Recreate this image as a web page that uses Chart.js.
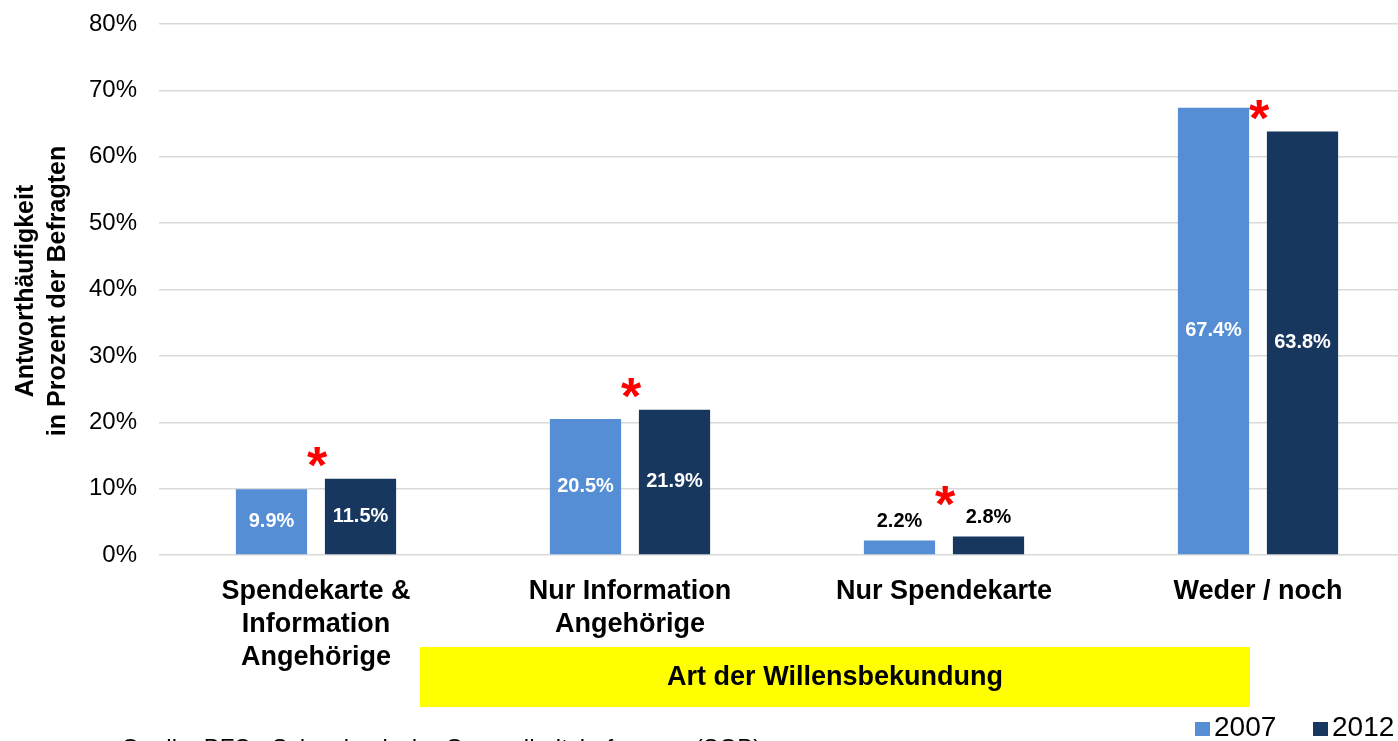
<!DOCTYPE html>
<html>
<head>
<meta charset="utf-8">
<script src="https://cdn.jsdelivr.net/npm/chart.js@4.4.0/dist/chart.umd.min.js"></script>
<style>
  html, body { margin: 0; padding: 0; background: #fff; overflow: hidden; }
  canvas { display: block; }
</style>
</head>
<body>
<canvas id="chart" width="1415" height="741"></canvas>
<script>
// Daten
const kategorien = [
    ['Spendekarte &', 'Information', 'Angehörige'],
    ['Nur Information', 'Angehörige'],
    'Nur Spendekarte',
    'Weder / noch'
];
const jahre = ['2007', '2012'];
const werte2007 = [9.9, 20.5, 2.2, 67.4];
const werte2012 = [11.5, 21.9, 2.8, 63.8];
const signifikant = [true, true, true, true];
const yTicks = [0, 10, 20, 30, 40, 50, 60, 70, 80];

const farben = ['#558ED5', '#17375E'];
const schrift = '"Liberation Sans", Arial, sans-serif';

// Werte in oder über den Balken
const wertLabels = {
    id: 'wertLabels',
    afterDatasetsDraw(chart) {
        const ctx = chart.ctx;
        ctx.save();
        ctx.font = 'bold 20px ' + schrift;
        ctx.textAlign = 'center';
        ctx.textBaseline = 'middle';
        chart.data.datasets.forEach((ds, i) => {
            chart.getDatasetMeta(i).data.forEach((bar, j) => {
                const v = ds.data[j];
                const txt = v.toFixed(1) + '%';
                if (v < 5) {
                    ctx.fillStyle = '#000';
                    ctx.fillText(txt, bar.x, bar.y - 19);
                } else {
                    ctx.fillStyle = '#fff';
                    ctx.fillText(txt, bar.x, (bar.y + bar.base) / 2);
                }
            });
        });
        ctx.restore();
    }
};

// Sternchen für signifikante Unterschiede
const sterne = {
    id: 'sterne',
    afterDatasetsDraw(chart) {
        const ctx = chart.ctx;
        const a = chart.getDatasetMeta(0).data;
        const b = chart.getDatasetMeta(1).data;
        ctx.save();
        ctx.font = 'bold 52px ' + schrift;
        ctx.fillStyle = '#FF0000';
        ctx.textAlign = 'center';
        ctx.textBaseline = 'middle';
        signifikant.forEach((s, j) => {
            if (!s) return;
            const x = (a[j].x + a[j].width / 2 + b[j].x - b[j].width / 2) / 2;
            let top = b[j].y;
            if (werte2012[j] < 5) top -= 19;
            ctx.fillText('*', x + 1, top - 10);
        });
        ctx.restore();
    }
};

// Achsentitel, gelbes Feld, Quelle, Legende
const rahmen = {
    id: 'rahmen',
    afterDraw(chart) {
        const ctx = chart.ctx;
        ctx.save();
        // Y-Titel
        ctx.translate(0, 291);
        ctx.rotate(-Math.PI / 2);
        ctx.font = 'bold 25px ' + schrift;
        ctx.fillStyle = '#000';
        ctx.textAlign = 'center';
        ctx.textBaseline = 'middle';
        ctx.fillText('Antworthäufigkeit', 0, 26);
        ctx.fillText('in Prozent der Befragten', 0, 58);
        ctx.restore();

        ctx.save();
        ctx.fillStyle = '#FFFF00';
        ctx.fillRect(420, 647, 830, 60);
        ctx.fillStyle = '#000';
        ctx.font = 'bold 27px ' + schrift;
        ctx.textAlign = 'center';
        ctx.textBaseline = 'middle';
        ctx.fillText('Art der Willensbekundung', 835, 678);

        ctx.font = '24px ' + schrift;
        ctx.textAlign = 'left';
        ctx.textBaseline = 'alphabetic';
        ctx.fillText('Quelle: BFS - Schweizerische Gesundheitsbefragung (SGB)', 121, 756);

        // Legende
        ctx.font = '28px ' + schrift;
        ctx.textBaseline = 'middle';
        const lx = [1195, 1313];
        jahre.forEach((j, i) => {
            ctx.fillStyle = farben[i];
            ctx.fillRect(lx[i], 722, 15, 14);
            ctx.fillStyle = '#000';
            ctx.fillText(j, lx[i] + 19, 728);
        });
        ctx.restore();
    }
};

new Chart(document.getElementById('chart'), {
    type: 'bar',
    data: {
        labels: kategorien,
        datasets: [
            { label: jahre[0], data: werte2007, backgroundColor: farben[0] },
            { label: jahre[1], data: werte2012, backgroundColor: farben[1] }
        ]
    },
    options: {
        responsive: false,
        animation: false,
        layout: { padding: { top: 24, left: 0, right: 0, bottom: 0 } },
        datasets: { bar: { categoryPercentage: 0.567, barPercentage: 0.8 } },
        plugins: { legend: { display: false }, tooltip: { enabled: false } },
        scales: {
            x: {
                grid: { display: false },
                border: { display: false },
                ticks: {
                    color: '#000',
                    padding: 12,
                    maxRotation: 0,
                    autoSkip: false,
                    font: { family: schrift, size: 27, weight: 'bold', lineHeight: '33px' }
                },
                afterFit(scale) {
                    scale.height = 186;
                    scale.paddingLeft = 0;
                    scale.paddingRight = 0;
                }
            },
            y: {
                min: 0,
                max: 80,
                afterBuildTicks(scale) { scale.ticks = yTicks.map(v => ({ value: v })); },
                grid: { color: '#D9D9D9', lineWidth: 1.5, drawTicks: false },
                border: { display: false },
                ticks: {
                    color: '#000',
                    padding: 22,
                    font: { family: schrift, size: 24 },
                    callback: v => v + '%'
                },
                afterFit(scale) {
                    scale.width = 159;
                    scale.paddingTop = 0;
                    scale.paddingBottom = 0;
                }
            }
        }
    },
    plugins: [wertLabels, sterne, rahmen]
});
</script>
</body>
</html>
